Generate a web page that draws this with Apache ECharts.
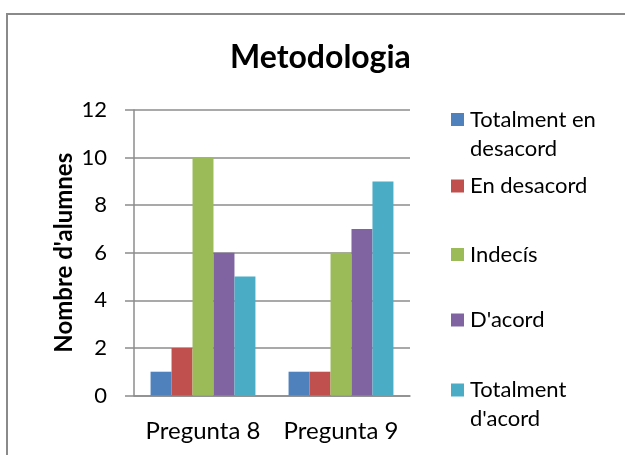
<!DOCTYPE html>
<html>
<head>
<meta charset="utf-8">
<script src="https://cdn.jsdelivr.net/npm/echarts@6/dist/echarts.min.js"></script>
<style>
  html, body { margin: 0; padding: 0; background: #fff; }
  #chart { width: 625px; height: 455px; }
</style>
</head>
<body>
<div id="chart"></div>
<script>
// Survey answers per question
const categories = ['Pregunta 8', 'Pregunta 9'];
const seriesNames = ['Totalment en desacord', 'En desacord', 'Indecís', "D'acord", "Totalment d'acord"];
const totalmentEnDesacord = [1, 1];
const enDesacord = [2, 1];
const indecis = [10, 6];
const dAcord = [6, 7];
const totalmentDAcord = [5, 9];
const yTicks = [0, 2, 4, 6, 8, 10, 12];

const values = [totalmentEnDesacord, enDesacord, indecis, dAcord, totalmentDAcord];
const colors = ['#4F81BD', '#C0504D', '#9BBB59', '#8064A2', '#4BACC6'];
// Legend labels, wrapped the way they appear beside the plot
const legendLabels = ['Totalment en\ndesacord', 'En desacord', 'Indecís', "D'acord", "Totalment\nd'acord"];
const legendCenters = [119.5, 186, 254.5, 320, 390];

const FONT = 'Lato';
const LINE_H = 29;

const chart = echarts.init(document.getElementById('chart'), null, { renderer: 'canvas' });

const legends = seriesNames.map((name, i) => {
  const lines = legendLabels[i].split('\n').length;
  // a blank leading line keeps the first text line level with the swatch
  const txt = lines > 1 ? '\n' + legendLabels[i] : legendLabels[i];
  const boxH = (lines > 1 ? 3 : 1) * LINE_H;
  return {
    data: [name],
    orient: 'vertical',
    left: 451,
    top: legendCenters[i] - boxH / 2,
    padding: 0,
    itemWidth: 13,
    itemHeight: 13,
    itemGap: 0,
    icon: 'rect',
    selectedMode: false,
    formatter: () => txt,
    textStyle: {
      fontFamily: FONT,
      fontSize: 22,
      color: '#000',
      lineHeight: LINE_H,
      padding: [0, 0, 0, 1]
    }
  };
});

const option = {
  animation: false,
  backgroundColor: '#fff',
  title: {
    text: 'Metodologia',
    left: 230,
    top: 42,
    padding: 0,
    textStyle: { fontFamily: FONT, fontWeight: 'bold', fontSize: 32, color: '#000' }
  },
  legend: legends,
  grid: { left: 134, top: 110, width: 276, height: 285.5, containLabel: false },
  xAxis: {
    type: 'category',
    data: categories,
    axisLine: { show: true, lineStyle: { color: '#8c8c8c', width: 1.5 } },
    axisTick: { show: false },
    axisLabel: { interval: 0, hideOverlap: false, fontFamily: FONT, fontSize: 24, color: '#000', margin: 24 },
    splitLine: { show: false }
  },
  yAxis: {
    type: 'value',
    min: yTicks[0],
    max: yTicks[yTicks.length - 1],
    interval: yTicks[1] - yTicks[0],
    name: "Nombre d'alumnes",
    nameLocation: 'middle',
    nameGap: 58,
    nameRotate: 90,
    nameTextStyle: { fontFamily: FONT, fontWeight: 'bold', fontSize: 24, color: '#000' },
    axisLine: { show: true, lineStyle: { color: '#8c8c8c', width: 1.5 } },
    axisTick: { show: true, length: 9, lineStyle: { color: '#8c8c8c', width: 1.5 } },
    axisLabel: { fontFamily: FONT, fontSize: 22, color: '#000', margin: 27 },
    splitLine: { show: true, lineStyle: { color: '#8c8c8c', width: 1.5 } }
  },
  series: seriesNames.map((name, i) => ({
    name,
    type: 'bar',
    data: values[i],
    barGap: '0%',
    barCategoryGap: '24%',
    itemStyle: { color: colors[i] }
  })),
  graphic: [{
    type: 'rect',
    shape: { x: 7, y: 14, width: 700, height: 500 },
    style: { fill: 'none', stroke: '#8a8a8a', lineWidth: 2 },
    silent: true,
    z: 100
  }]
};

chart.setOption(option);
</script>
</body>
</html>
